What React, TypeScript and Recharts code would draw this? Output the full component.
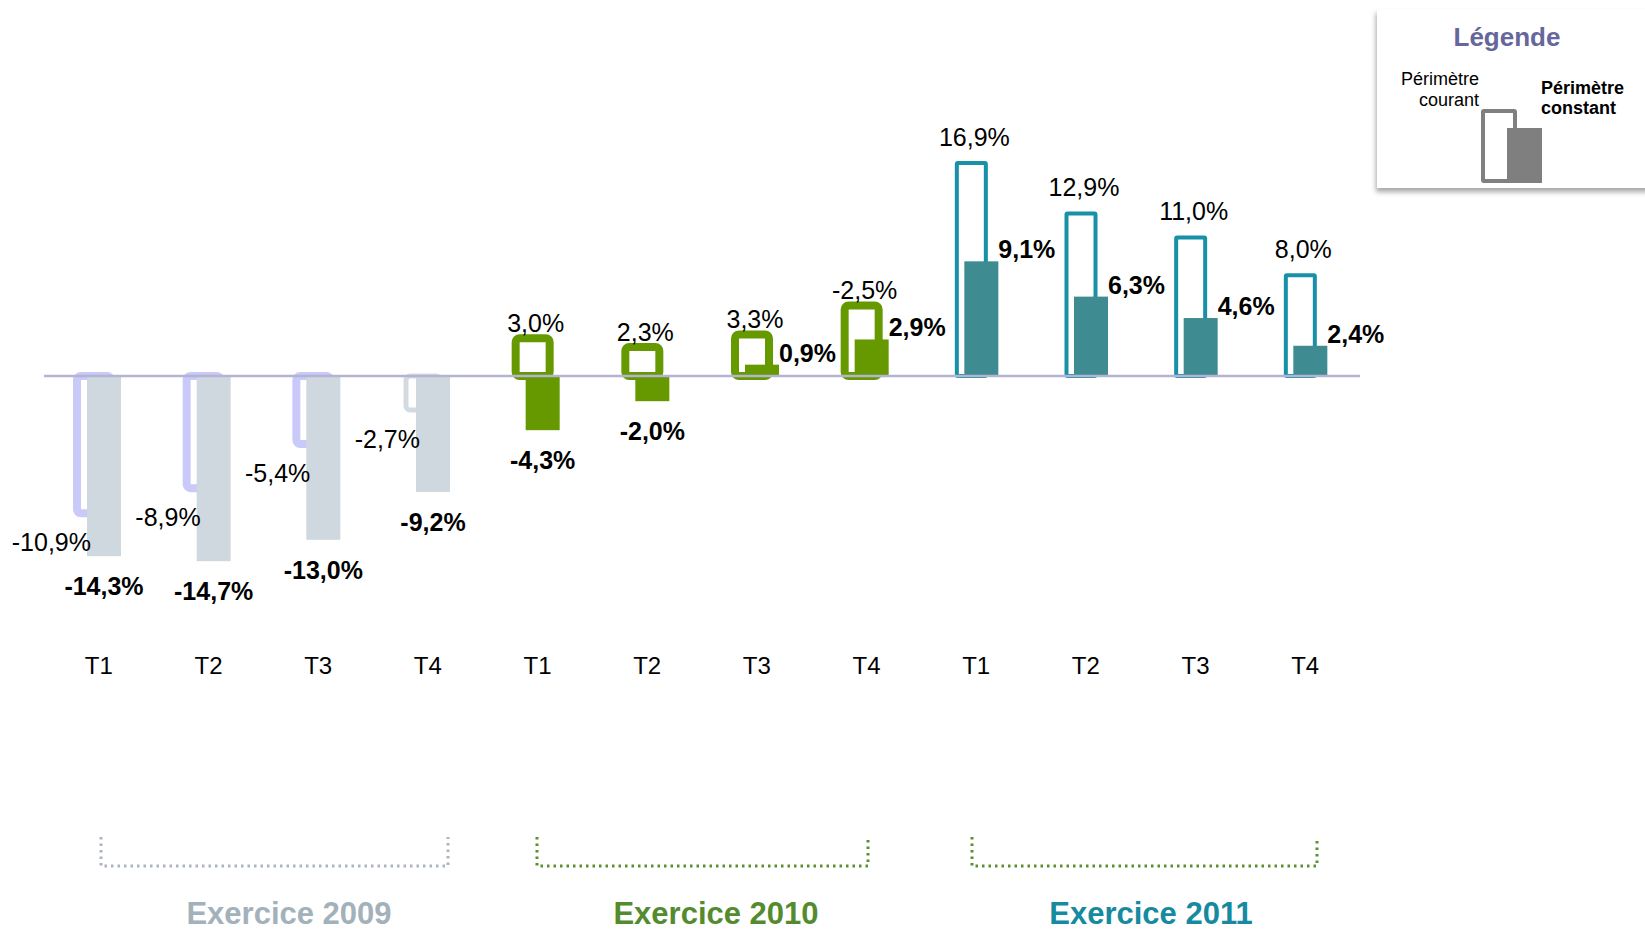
import React from 'react';
import { BarChart, Bar, XAxis, YAxis, ReferenceLine, LabelList } from 'recharts';

// data
const QUARTERS = ['T1', 'T2', 'T3', 'T4', 'T1', 'T2', 'T3', 'T4', 'T1', 'T2', 'T3', 'T4'];
const YEARS = ['2009', '2009', '2009', '2009', '2010', '2010', '2010', '2010', '2011', '2011', '2011', '2011'];
// périmètre courant (outlined bars)
const COURANT = [-10.9, -8.9, -5.4, -2.7, 3.0, 2.3, 3.3, 5.6, 16.9, 12.9, 11.0, 8.0];
const COURANT_LABELS = ['-10,9%', '-8,9%', '-5,4%', '-2,7%', '3,0%', '2,3%', '3,3%', '-2,5%', '16,9%', '12,9%', '11,0%', '8,0%'];
// périmètre constant (filled bars)
const CONSTANT = [-14.3, -14.7, -13.0, -9.2, -4.3, -2.0, 0.9, 2.9, 9.1, 6.3, 4.6, 2.4];
const EXERCICES = ['2009', '2010', '2011'];

const data = QUARTERS.map((q, i) => ({
  name: q,
  year: YEARS[i],
  courant: COURANT[i],
  constant: CONSTANT[i],
}));

const FONT = '"Liberation Sans", Arial, sans-serif';

const W = 1645;
const H = 932;

const YEAR_STYLE: Record<string, any> = {
  '2009': { outline: '#c9c9fa', outlineWidth: 8, fill: '#cfd8df', title: '#a3b1bb', bracket: '#a9b6c0', rx: 4, inset: 0, gap: 6 },
  '2010': { outline: '#669900', outlineWidth: 8, fill: '#669900', title: '#558b2f', bracket: '#5a9030', rx: 4, inset: 0, gap: 6 },
  '2011': { outline: '#1790a8', outlineWidth: 4, fill: '#3e8c91', title: '#168a9f', bracket: '#5a9030', rx: 1, inset: 2.5, gap: 17 },
};
// 2009 T4 outline is drawn lighter and thinner
const OUTLINE_OVERRIDE: Record<number, any> = { 3: { outline: '#d3dbe1', outlineWidth: 5 } };

const BRACKETS_X = [[101, 448], [537, 868], [972, 1317]];
const TITLES_X = [289, 716, 1151];

const geom = (props: any) => {
  const vb = props.viewBox || {};
  const x = vb.x ?? props.x;
  const y = vb.y ?? props.y;
  const width = vb.width ?? props.width;
  const height = vb.height ?? props.height;
  return { x, width, top: Math.min(y, y + height), bottom: Math.max(y, y + height) };
};

const CourantShape = (props: any) => {
  const { x, y, width, height, index } = props;
  const st = { ...YEAR_STYLE[YEARS[index]], ...(OUTLINE_OVERRIDE[index] || {}) };
  const top = Math.min(y, y + height);
  return (
    <rect
      x={x + st.inset}
      y={top}
      width={width - 2 * st.inset}
      height={Math.abs(height)}
      rx={st.rx}
      fill="none"
      stroke={st.outline}
      strokeWidth={st.outlineWidth}
    />
  );
};

const ConstantShape = (props: any) => {
  const { x, y, width, height, index } = props;
  return (
    <rect
      x={x}
      y={Math.min(y, y + height)}
      width={width}
      height={Math.abs(height)}
      fill={YEAR_STYLE[YEARS[index]].fill}
    />
  );
};

const courantLabel = (props: any) => {
  const i = props.index;
  const { x, width, top, bottom } = geom(props);
  const txt = COURANT_LABELS[i];
  if (COURANT[i] < 0) {
    return (
      <text x={x + 14} y={bottom + 38} textAnchor="end" fontSize={25} fontFamily={FONT} fill="#000">
        {txt}
      </text>
    );
  }
  return (
    <text x={x + width / 2 + 3} y={top - YEAR_STYLE[YEARS[i]].gap} textAnchor="middle" fontSize={25} fontFamily={FONT} fill="#000">
      {txt}
    </text>
  );
};

const constantLabel = (props: any) => {
  const i = props.index;
  const { x, width, top, bottom } = geom(props);
  const v = CONSTANT[i];
  const txt = v.toFixed(1).replace('.', ',') + '%';
  if (v < 0) {
    return (
      <text x={x + width / 2} y={bottom + 39} textAnchor="middle" fontSize={25} fontWeight="bold" fontFamily={FONT} fill="#000">
        {txt}
      </text>
    );
  }
  return (
    <text x={x + width} y={top - 3} textAnchor="start" fontSize={25} fontWeight="bold" fontFamily={FONT} fill="#000">
      {txt}
    </text>
  );
};

const QuarterTick = (props: any) => {
  const { x, y, payload } = props;
  return (
    <text x={x} y={y + 46} textAnchor="middle" fontSize={24} fontFamily={FONT} fill="#000">
      {payload.value}
    </text>
  );
};

export default function App() {
  return (
    <div style={{ position: 'absolute', left: 0, top: 0, width: W, height: H, background: '#fff', overflow: 'hidden', fontFamily: FONT }}>
      {/* legend box */}
      <div
        style={{
          position: 'absolute',
          left: 1377,
          top: 9,
          width: 275,
          height: 179,
          background: '#fff',
          boxShadow: '-1px 4px 5px rgba(0,0,0,0.35)',
        }}
      />
      <div style={{ position: 'absolute', left: 0, top: 0 }}>
        <BarChart
          width={W}
          height={H}
          data={data}
          margin={{ top: 61, right: 285, bottom: 274, left: 44 }}
          barSize={34}
          barGap={-24}
          barCategoryGap={0}
        >
          <XAxis dataKey="name" axisLine={false} tickLine={false} tickSize={0} tickMargin={0} height={30} tick={<QuarterTick />} interval={0} />
          <YAxis hide domain={[-20, 25]} allowDataOverflow />
          <ReferenceLine y={0} stroke="#b4b4d2" strokeWidth={2.5} />
          <Bar dataKey="courant" shape={<CourantShape />} isAnimationActive={false}>
            <LabelList dataKey="courant" content={courantLabel} />
          </Bar>
          <Bar dataKey="constant" shape={<ConstantShape />} isAnimationActive={false}>
            <LabelList dataKey="constant" content={constantLabel} />
          </Bar>
        </BarChart>
      </div>
      <svg width={W} height={H} style={{ position: 'absolute', left: 0, top: 0, pointerEvents: 'none' }}>
        {EXERCICES.map((yr, j) => {
          const [x1, x2] = BRACKETS_X[j];
          const st = YEAR_STYLE[yr];
          return (
            <g key={yr}>
              <path
                d={`M${x1},837 V866 H${x2} V837`}
                fill="none"
                stroke={st.bracket}
                strokeWidth={3}
                strokeDasharray="2.5 4"
              />
              <text x={TITLES_X[j]} y={924} textAnchor="middle" fontSize={31} fontWeight="bold" fontFamily={FONT} fill={st.title}>
                {`Exercice ${yr}`}
              </text>
            </g>
          );
        })}
        {/* legend */}
        <text x={1507} y={46} textAnchor="middle" fontSize={26} fontWeight="bold" fontFamily={FONT} fill="#66669c">
          Légende
        </text>
        <text x={1479} y={85} textAnchor="end" fontSize={18} fontFamily={FONT} fill="#000">
          Périmètre
        </text>
        <text x={1479} y={106} textAnchor="end" fontSize={18} fontFamily={FONT} fill="#000">
          courant
        </text>
        <text x={1541} y={94} textAnchor="start" fontSize={18} fontWeight="bold" fontFamily={FONT} fill="#000">
          Périmètre
        </text>
        <text x={1541} y={114} textAnchor="start" fontSize={18} fontWeight="bold" fontFamily={FONT} fill="#000">
          constant
        </text>
        <rect x={1483} y={111} width={32} height={70} rx={1} fill="none" stroke="#808080" strokeWidth={4} />
        <rect x={1507} y={128} width={35} height={55} fill="#7f7f7f" />
      </svg>
    </div>
  );
}
